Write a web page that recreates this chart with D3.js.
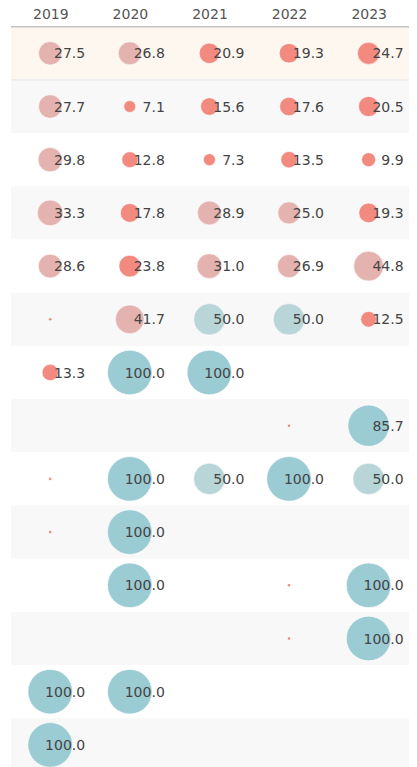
<!DOCTYPE html>
<html>
<head>
<meta charset="utf-8">
<script src="https://cdn.jsdelivr.net/npm/d3@7"></script>
<style>
  html, body { margin: 0; padding: 0; background: #fff; }
  svg { display: block; }
  text { font-family: "DejaVu Sans", sans-serif; }
</style>
</head>
<body>
<div id="chart"></div>
<script>
// Column categories (years)
const years = ["2019", "2020", "2021", "2022", "2023"];
// Row indices (14 rows)
const rowIds = d3.range(14);
// Series values per row (null = no mark, 0 = tiny dot without label)
const row01 = [27.5, 26.8, 20.9, 19.3, 24.7];
const row02 = [27.7, 7.1, 15.6, 17.6, 20.5];
const row03 = [29.8, 12.8, 7.3, 13.5, 9.9];
const row04 = [33.3, 17.8, 28.9, 25.0, 19.3];
const row05 = [28.6, 23.8, 31.0, 26.9, 44.8];
const row06 = [0, 41.7, 50.0, 50.0, 12.5];
const row07 = [13.3, 100.0, 100.0, null, null];
const row08 = [null, null, null, 0, 85.7];
const row09 = [0, 100.0, 50.0, 100.0, 50.0];
const row10 = [0, 100.0, null, null, null];
const row11 = [null, 100.0, null, 0, 100.0];
const row12 = [null, null, null, 0, 100.0];
const row13 = [100.0, 100.0, null, null, null];
const row14 = [100.0, null, null, null, null];
const rows = [row01, row02, row03, row04, row05, row06, row07, row08, row09, row10, row11, row12, row13, row14];

const W = 417, H = 767;
const svg = d3.select("#chart").append("svg").attr("width", W).attr("height", H);

const x = d3.scaleBand().domain(years).range([11, 409]);
const y = d3.scaleBand().domain(rowIds).range([26.7, 26.7 + 14 * 53.2]);
const r = d3.scaleSqrt().domain([0, 100]).range([0, 22.3]);
const color = d3.scaleThreshold()
  .domain([25, 50, 50.001])
  .range(["#f38a80", "#e4b3af", "#b8d5d8", "#9bcbd3"]);

// Row backgrounds
svg.append("g").selectAll("rect").data(rowIds).join("rect")
  .attr("x", 11).attr("width", 398)
  .attr("y", d => y(d)).attr("height", y.bandwidth())
  .attr("fill", d => d === 0 ? "#fdf7ef" : (d % 2 === 1 ? "#f8f8f8" : "#ffffff"));

// Separator below highlighted row
svg.append("line")
  .attr("x1", 11).attr("x2", 409)
  .attr("y1", y(1)).attr("y2", y(1))
  .attr("stroke", "#e6e6e6").attr("stroke-width", 1);

// Header
const header = svg.append("g");
header.selectAll("text").data(years).join("text")
  .attr("x", d => x(d) + x.bandwidth() / 2)
  .attr("y", 18.5)
  .attr("text-anchor", "middle")
  .attr("font-size", 14)
  .attr("fill", "#555")
  .text(d => d);
header.append("line")
  .attr("x1", 11).attr("x2", 409)
  .attr("y1", 26.7).attr("y2", 26.7)
  .attr("stroke", "#c4c4c4").attr("stroke-width", 1.5);

// Cells
const cells = [];
rows.forEach((vals, ri) => vals.forEach((v, ci) => {
  if (v !== null) cells.push({ row: ri, year: years[ci], value: v });
}));

const cx = d => x(d.year) + x.bandwidth() / 2 - 0.6;
const cy = d => y(d.row) + y.bandwidth() / 2;

const g = svg.append("g");
g.selectAll("circle").data(cells).join("circle")
  .attr("cx", cx).attr("cy", cy)
  .attr("r", d => d.value === 0 ? 1.3 : r(d.value))
  .attr("fill", d => color(d.value))
  .attr("stroke", d => d.value === 0 ? "none" : "#ffffff")
  .attr("stroke-opacity", 0.6)
  .attr("stroke-width", 1);

g.selectAll("text").data(cells.filter(d => d.value > 0)).join("text")
  .attr("x", d => cx(d) + 35)
  .attr("y", d => cy(d) + 5)
  .attr("text-anchor", "end")
  .attr("font-size", 14)
  .attr("fill", "#444")
  .text(d => d3.format(".1f")(d.value));
</script>
</body>
</html>
